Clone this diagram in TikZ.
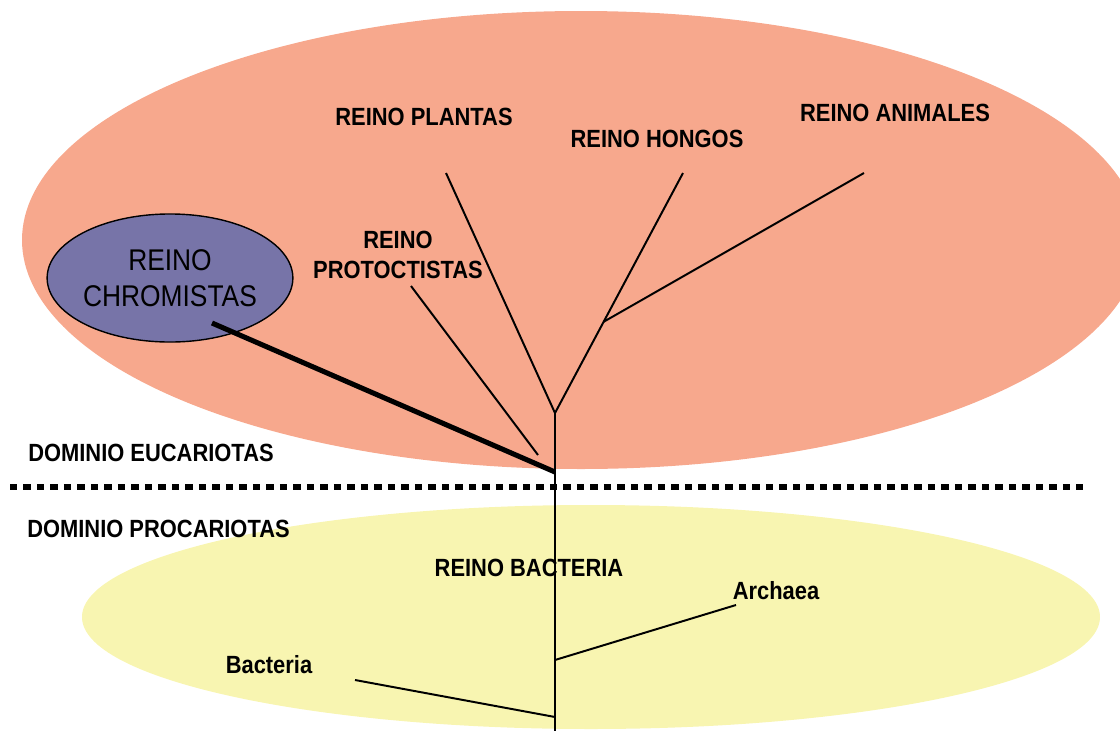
\documentclass[tikz,border=0pt]{standalone}
\usepackage{fontspec}
\setmainfont{Liberation Sans}[FakeStretch=0.88]
\usepackage{tikz}
\usetikzlibrary{shapes.geometric,calc}
\definecolor{salmon}{HTML}{F7A88D}
\definecolor{lilac}{HTML}{7774A8}
\definecolor{lemon}{HTML}{F8F5B1}
\tikzset{
  tag/.style={font=\fontsize{17.7}{21.3}\selectfont\bfseries,align=center,inner sep=0pt},
  branch/.style={draw=black,line width=1.4pt},
  heavybranch/.style={draw=black,line width=3.6pt},
  divider/.style={draw=black,line width=4.3pt,dash pattern=on 5pt off 4.6pt},
  chrombox/.style={ellipse,draw=black,line width=1pt,fill=lilac,inner sep=0pt,
    minimum width=6.1cm,minimum height=3.2cm,align=center,
    font=\fontsize{21.3}{25.6}\selectfont}
}

\begin{document}
\begin{tikzpicture}[x=0.025cm,y=-0.025cm]
  \useasboundingbox (0,0) rectangle (1120,731);
  % domain backgrounds
  \fill[salmon] (581,240) ellipse [x radius=559,y radius=229];
  \fill[lemon] (591,617) ellipse [x radius=509,y radius=112];
  \node[chrombox] (chrom) at (170,278) {REINO\\CHROMISTAS};

  \node[tag] (plantas) at (424,117) {REINO PLANTAS};
  \node[tag] (hongos) at (657,139) {REINO HONGOS};
  \node[tag] (animales) at (895,113) {REINO ANIMALES};
  \node[tag] (protoc) at (398,255) {REINO\\PROTOCTISTAS};
  \node[tag,anchor=west] (euca) at (28,453) {DOMINIO EUCARIOTAS};
  \node[tag,anchor=west] (proca) at (27,529) {DOMINIO PROCARIOTAS};
  \node[tag] (bacreino) at (529,568) {REINO BACTERIA};
  \node[tag] (archaea) at (776,591) {Archaea};
  \node[tag] (bacteria) at (269,665) {Bacteria};

  % tree
  \coordinate (fork) at (555,413);
  \coordinate (root) at (555,731);
  \coordinate (plantasTip) at (446,173);
  \coordinate (hongosTip) at (683,173);
  \coordinate (animalesTip) at (864,173);
  \coordinate (animalJoin) at ($(fork)!0.38!(hongosTip)$);
  \coordinate (protocTip) at (411,286);
  \coordinate (protocBase) at (538,455);
  \coordinate (chromTip) at (212,323);
  \coordinate (chromBase) at (555,472);
  \coordinate (archaeaTip) at (736,605);
  \coordinate (archaeaBase) at (555,660);
  \coordinate (bacteriaTip) at (355,680);
  \coordinate (bacteriaBase) at (555,717);
  \coordinate (divL) at (10,487);
  \coordinate (divR) at (1083,487);

  \draw[branch] (fork) -- (root);
  \draw[branch] (fork) -- (plantasTip);
  \draw[branch] (fork) -- (hongosTip);
  \draw[branch] (animalJoin) -- (animalesTip);
  \draw[branch] (protocBase) -- (protocTip);
  \draw[heavybranch] (chromBase) -- (chromTip);
  \draw[branch] (archaeaBase) -- (archaeaTip);
  \draw[branch] (bacteriaBase) -- (bacteriaTip);
  \draw[divider] (divL) -- (divR);
\end{tikzpicture}
\end{document}
